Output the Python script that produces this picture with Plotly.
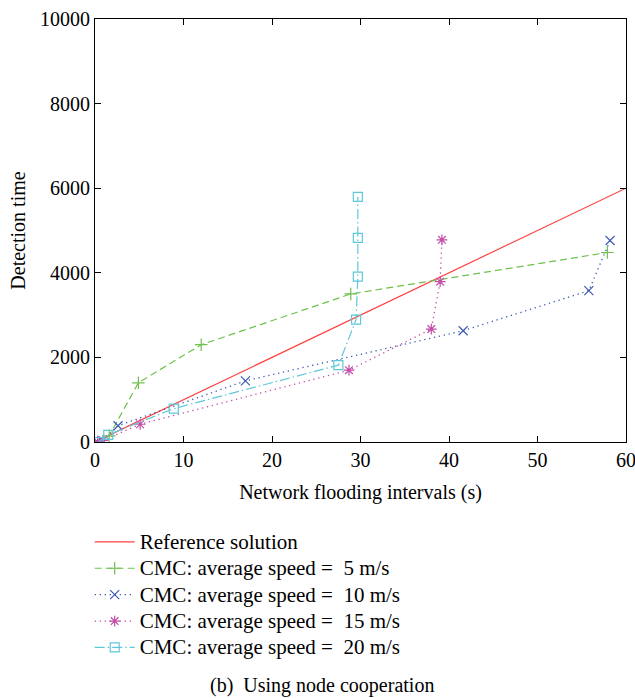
import plotly.graph_objects as go

ref_x = [0, 60]
ref_y = [0, 6000]

s5_x = [0.3, 1.6, 4.9, 12.0, 28.9, 57.9]
s5_y = [0, 145, 1400, 2300, 3500, 4480]

s10_x = [0.3, 0.8, 2.6, 17.0, 41.6, 55.8, 58.2]
s10_y = [0, 30, 385, 1446, 2630, 3578, 4763]

s15_x = [0.3, 0.9, 5.1, 28.7, 38.0, 39.0, 39.2]
s15_y = [0, 40, 420, 1698, 2670, 3791, 4779]

s20_x = [0.4, 1.5, 8.9, 27.5, 29.5, 29.7, 29.7, 29.7]
s20_y = [0, 170, 790, 1817, 2891, 3910, 4826, 5797]

x_ticks = [0, 10, 20, 30, 40, 50, 60]
y_ticks = [0, 2000, 4000, 6000, 8000, 10000]
y_tick_text = [str(v) for v in y_ticks]

names = ["Reference solution",
         "CMC: average speed =\u00a0 5 m/s",
         "CMC: average speed =\u00a0 10 m/s",
         "CMC: average speed =\u00a0 15 m/s",
         "CMC: average speed =\u00a0 20 m/s"]

FONT = "Liberation Serif"


def lbl(t):
    return '<span style="font-size:21px">' + t + '</span>'


fig = go.Figure()
fig.add_trace(go.Scatter(x=ref_x, y=ref_y, mode="lines", name=lbl(names[0]),
                         line=dict(color="#ff4040", width=1.2)))
fig.add_trace(go.Scatter(x=s5_x, y=s5_y, mode="lines+markers", name=lbl(names[1]),
                         line=dict(color="#6fc04c", width=1.2, dash="7px,4px"),
                         marker=dict(symbol="cross-thin-open", size=9,
                                     line=dict(color="#6fc04c", width=1.2))))
fig.add_trace(go.Scatter(x=s10_x, y=s10_y, mode="lines+markers", name=lbl(names[2]),
                         line=dict(color="#3d5cb2", width=1.3, dash="1.3px,3.7px"),
                         marker=dict(symbol="x-thin-open", size=9,
                                     line=dict(color="#3d5cb2", width=1.2))))
fig.add_trace(go.Scatter(x=s15_x, y=s15_y, mode="lines+markers", name=lbl(names[3]),
                         line=dict(color="#c24ca8", width=1.3, dash="1.3px,3.7px"),
                         marker=dict(symbol="asterisk-open", size=9,
                                     line=dict(color="#c24ca8", width=1.2))))
fig.add_trace(go.Scatter(x=s20_x, y=s20_y, mode="lines+markers", name=lbl(names[4]),
                         line=dict(color="#5ec8d8", width=1.2, dash="10px,3px,1.5px,3px"),
                         marker=dict(symbol="square-open", size=9,
                                     line=dict(color="#5ec8d8", width=1.2))))

axis_common = dict(showline=True, linecolor="black", linewidth=1.2, mirror="allticks",
                   ticks="inside", ticklen=6, tickcolor="black", showgrid=False,
                   zeroline=False, automargin=False, ticklabeloverflow="allow",
                   tickfont=dict(family=FONT, size=20, color="black"))

fig.update_layout(
    width=635, height=698,
    margin=dict(l=95, r=9, t=19, b=256),
    paper_bgcolor="white", plot_bgcolor="white",
    font=dict(family=FONT, size=18, color="black"),
    xaxis=dict(range=[0, 60], tickvals=x_ticks,
               title=dict(text="Network flooding intervals (s)", standoff=14,
                          font=dict(family=FONT, size=20)), **axis_common),
    yaxis=dict(range=[0, 10000], tickvals=y_ticks, ticktext=y_tick_text,
               title=dict(text="Detection time", standoff=8,
                          font=dict(family=FONT, size=20)), **axis_common),
    legend=dict(x=-0.01, xanchor="left", y=-0.193, yanchor="top",
                font=dict(family=FONT, size=18), itemwidth=40,
                tracegroupgap=0, bgcolor="rgba(0,0,0,0)"),
    showlegend=True,
    annotations=[dict(text="(b)\u00a0 Using node cooperation", xref="paper", yref="paper",
                      x=0.4275, y=-0.5745, xanchor="center", yanchor="middle",
                      showarrow=False, font=dict(family=FONT, size=20))],
)

fig.write_html("out.html")
